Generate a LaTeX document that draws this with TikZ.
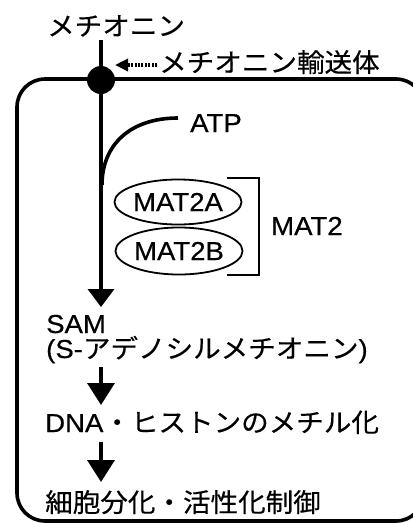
\documentclass[tikz,border=0pt]{standalone}
\usepackage{fontspec}
\setmainfont{Liberation Sans}[FakeStretch=1.06,FakeBold=0.5]
\newfontfamily\jp{Noto Sans CJK JP}[FakeStretch=1.06,FakeBold=0.4]
\usetikzlibrary{arrows.meta,shapes.geometric}
\tikzset{
  lbl/.style={inner sep=0pt, anchor=base west, font=\fontsize{26}{30}\selectfont},
  thick line/.style={line width=3.6pt},
  bigarrow/.style={thick line, -{Triangle[width=27pt,length=22pt]}},
  enz/.style={draw, ellipse, line width=1.8pt, inner sep=0pt, font=\fontsize{26}{30}\selectfont},
}
\begin{document}
\begin{tikzpicture}[x=1pt,y=-1pt]
\useasboundingbox (0,0) rectangle (413,523);
\begin{scope}
\clip (0,0) rectangle (413,523);
\draw[thick line, rounded corners=28pt] (17,79) rectangle (424,521);
\end{scope}
% texts
\node[lbl] (met) at (47,35.5) {\jp メチオニン};
\node[lbl] (trans) at (159,72) {\jp メチオニン輸送体};
\node[lbl] (atp) at (190,132) {ATP};
\node[enz, minimum width=122pt, minimum height=45pt] (mata) at (178,202) {MAT2A};
\node[enz, minimum width=124pt, minimum height=47pt] (matb) at (179,251) {MAT2B};
\node[lbl] (mat2) at (271,235) {MAT2};
\node[lbl] (sam) at (46,333) {SAM};
\node[lbl] (sam2) at (46,358) {(S-{\jp アデノシルメチオニン})};
\node[lbl] (dna) at (45,432) {DNA{\jp ・ヒストンのメチル化}};
\node[lbl] (cell) at (45,512) {\jp 細胞分化・活性化制御};
% coordinates
\coordinate (top) at (101,40);
\coordinate (samtip) at (101,307);
\coordinate (atpstart) at (178,118);
\coordinate (atpjoin) at (102,185);
\coordinate (a1s) at (101,367);
\coordinate (a1e) at (101,405);
\coordinate (a2s) at (101,442);
\coordinate (a2e) at (101,482);
\coordinate (dotarrowstart) at (157,65);
\coordinate (dotarrowend) at (115,65);
% main line
\draw[thick line, -{Triangle[width=26pt,length=18pt]}] (top) -- (samtip);
\fill (101,80) circle (14pt) coordinate (dot);
% ATP curve
\draw[thick line] (atpstart) .. controls (130,118) and (102,145) .. (atpjoin);
% transporter dotted arrow
\draw[line width=3.5pt, dash pattern=on 2pt off 1.4pt, -{Triangle[width=12pt,length=13pt,sep=0pt]}] (dotarrowstart) -- (dotarrowend);
% bracket
\coordinate (b1) at (227,178);
\coordinate (b2) at (259,178);
\coordinate (b3) at (259,275);
\coordinate (b4) at (227,275);
\draw[line width=2.2pt] (b1) -- (b2) -- (b3) -- (b4);
% arrows
\draw[bigarrow] (a1s) -- (a1e);
\draw[bigarrow] (a2s) -- (a2e);
\end{tikzpicture}
\end{document}
